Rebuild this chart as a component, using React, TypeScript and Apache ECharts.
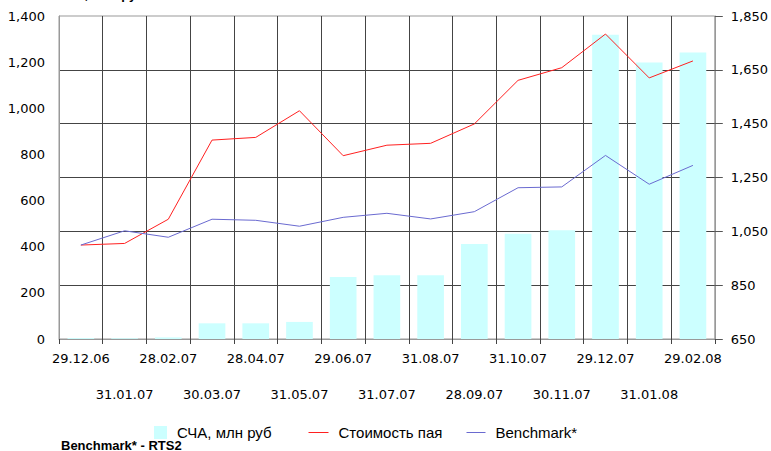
import React, { useEffect, useRef } from "react";
import * as echarts from "echarts";

const categories = [
  "29.12.06", "31.01.07", "28.02.07", "30.03.07", "28.04.07", "31.05.07", "29.06.07", "31.07.07",
  "31.08.07", "28.09.07", "31.10.07", "30.11.07", "29.12.07", "31.01.08", "29.02.08",
];
const netAssets = [4, 3, 7, 68, 68, 74, 269, 276, 276, 412, 456, 471, 1319, 1198, 1242];
const unitPrice = [999, 1005, 1095, 1389, 1399, 1498, 1331, 1370, 1377, 1449, 1611, 1658, 1783, 1620, 1683];
const benchmark = [999, 1052, 1028, 1095, 1091, 1069, 1102, 1117, 1096, 1123, 1212, 1215, 1332, 1225, 1295];

const leftTicks = { min: 0, max: 1400, interval: 200 };
const rightTicks = { min: 650, max: 1850, interval: 200 };

const seriesNames = ["СЧА, млн руб", "Стоимость пая", "Benchmark*"];
const titleText = "СЧА, млн руб";
const subtitleText = "Benchmark* - RTS2";

const axisFont = { fontFamily: "DejaVu Sans", fontSize: 13, color: "#000" };
const legendFont = { fontFamily: "Liberation Sans", fontSize: 15, color: "#000", padding: [0, 0, 0, 5] };
const fmt = (v: number) => v.toLocaleString("en-US");

export default function App() {
  const ref = useRef<HTMLDivElement>(null);
  useEffect(() => {
    document.body.style.margin = "0";
    const chart = echarts.init(ref.current!, null, { renderer: "svg" });
    chart.setOption({
      animation: false,
      grid: { left: 59, right: 56, top: 16, bottom: 112, show: true, borderColor: "#999", borderWidth: 1, backgroundColor: "transparent" },
      legend: [
        { data: [seriesNames[0]], left: 149, top: 420, itemWidth: 13, itemHeight: 13, textStyle: legendFont, icon: "rect" },
        { data: [{ name: seriesNames[1], itemStyle: { opacity: 0 }, lineStyle: { width: 1 } }], left: 303, top: 420, itemWidth: 20, itemHeight: 13, textStyle: legendFont },
        { data: [{ name: seriesNames[2], itemStyle: { opacity: 0 }, lineStyle: { width: 1 } }], left: 461, top: 420, itemWidth: 19, itemHeight: 13, textStyle: legendFont },
      ],
      graphic: [
        { type: "text", x: 57, y: -5.5, style: { text: titleText, fill: "#000", font: 'bold 13px "Liberation Sans"', verticalAlign: "middle" } },
        { type: "text", x: 61, y: 445, z: 100, style: { text: subtitleText, fill: "#000", font: 'bold 13px "Liberation Sans"', verticalAlign: "middle" } },
      ],
      xAxis: {
        type: "category",
        data: categories,
        boundaryGap: true,
        axisLine: { show: true, lineStyle: { color: "#999", width: 1 } },
        axisTick: { show: true, alignWithLabel: false, length: 5, lineStyle: { color: "#444" } },
        splitLine: { show: true, showMinLine: false, showMaxLine: false, lineStyle: { color: "#444", width: 1 } },
        axisLabel: {
          interval: 0,
          margin: 1,
          lineHeight: 36,
          ...axisFont,
          formatter: (v: string, i: number) => (i % 2 ? "\n" + v : v),
        },
      },
      yAxis: [
        {
          type: "value",
          position: "left",
          ...leftTicks,
          axisLine: { show: true, lineStyle: { color: "#999" } },
          axisTick: { show: false },
          splitLine: { show: false },
          axisLabel: { margin: 14, ...axisFont, formatter: fmt },
        },
        {
          type: "value",
          position: "right",
          ...rightTicks,
          axisLine: { show: true, lineStyle: { color: "#999" } },
          axisTick: { show: true, inside: false, length: 8, lineStyle: { color: "#555" } },
          splitLine: { show: true, showMinLine: false, showMaxLine: false, lineStyle: { color: "#444", width: 1 } },
          axisLabel: { margin: 16, ...axisFont, formatter: fmt },
        },
      ],
      series: [
        {
          name: seriesNames[0],
          type: "bar",
          yAxisIndex: 0,
          data: netAssets,
          barCategoryGap: "39%",
          itemStyle: { color: "#ccffff" },
        },
        {
          name: seriesNames[1],
          type: "line",
          yAxisIndex: 1,
          data: unitPrice,
          symbol: "none",
          lineStyle: { color: "#ff2020", width: 1 },
          itemStyle: { color: "#ff2020" },
        },
        {
          name: seriesNames[2],
          type: "line",
          yAxisIndex: 1,
          data: benchmark,
          symbol: "none",
          lineStyle: { color: "#6a6ad0", width: 1 },
          itemStyle: { color: "#6a6ad0" },
        },
      ],
    });
    return () => chart.dispose();
  }, []);
  return <div ref={ref} style={{ width: 771, height: 451 }} />;
}
